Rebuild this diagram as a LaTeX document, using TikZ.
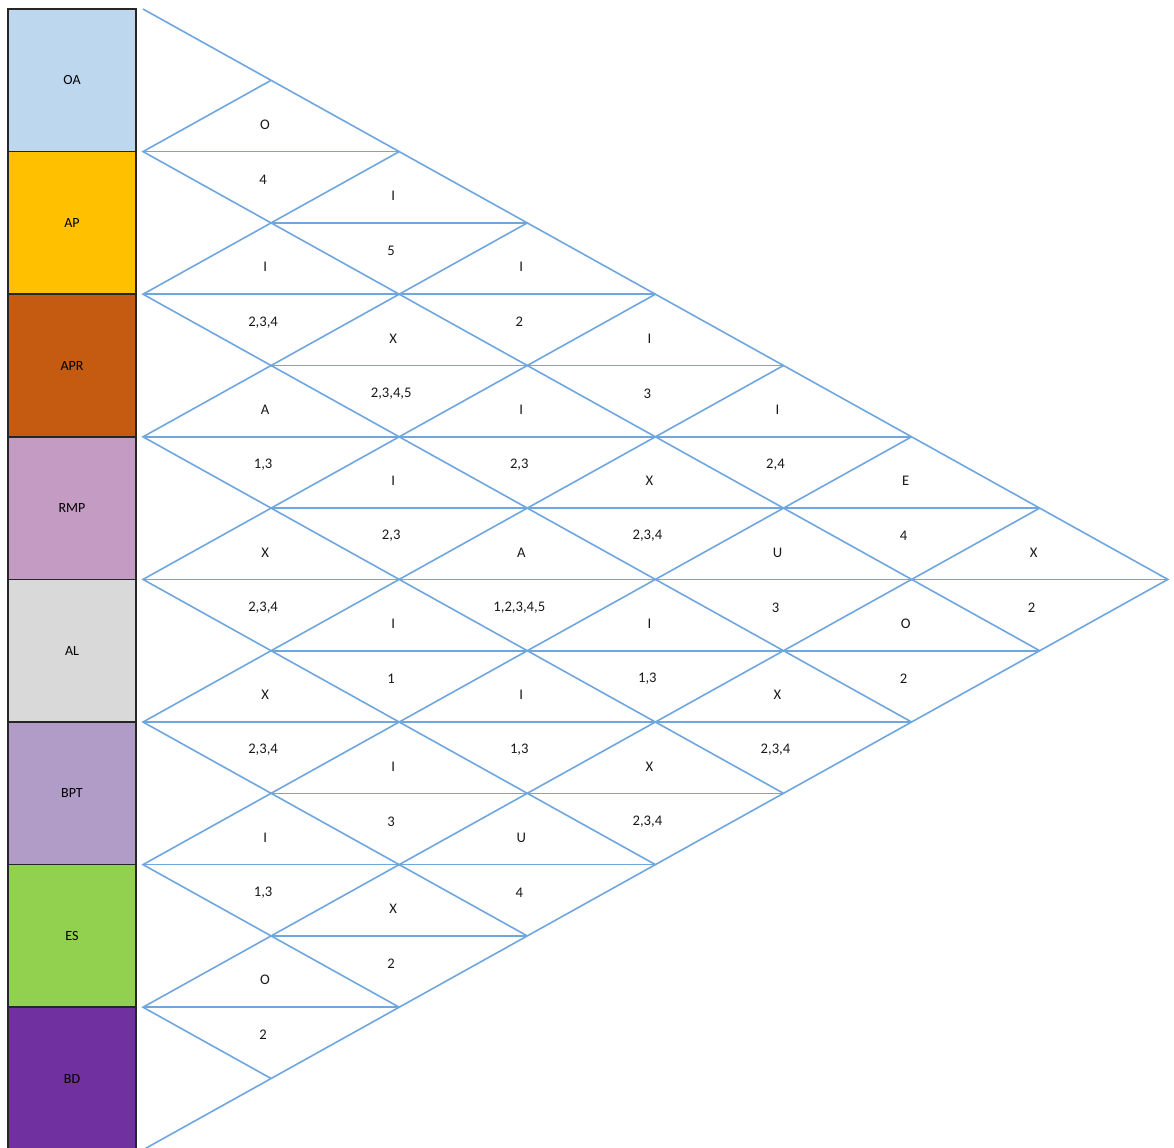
\documentclass[tikz,border=0pt]{standalone}
\usepackage{fontspec}
\setmainfont{Carlito}
\usetikzlibrary{calc}

\definecolor{relline}{RGB}{112,166,222}
\definecolor{oacol}{RGB}{189,215,238}
\definecolor{apcol}{RGB}{255,192,0}
\definecolor{aprcol}{RGB}{197,90,17}
\definecolor{rmpcol}{RGB}{195,155,195}
\definecolor{alcol}{RGB}{217,217,217}
\definecolor{bptcol}{RGB}{177,155,199}
\definecolor{escol}{RGB}{146,208,80}
\definecolor{bdcol}{RGB}{112,48,160}

\begin{document}
\begin{tikzpicture}[
    x=0.75pt, y=-0.75pt,
    dept/.style={draw=black!85, line width=1.2pt, minimum width=96pt, minimum height=106.95pt,
                 inner sep=0pt, outer sep=0pt, font=\fontsize{10.5}{12}\selectfont},
    rel/.style={draw=relline, line width=1.2pt},
    code/.style={font=\fontsize{11}{12}\selectfont, text=black!90, inner sep=1pt},
]
  \useasboundingbox (0,0) rectangle (1174,1147);

  % Lattice points of the chart
  \foreach \j in {0,...,8} {
    \foreach \i in {0,...,16} {
      \coordinate (v-\j-\i) at ({143+128.1*\j},{9+71.3*\i});
    }
  }

  % Department column
  \foreach \name/\col [count=\n from 0] in {OA/oacol, AP/apcol, APR/aprcol, RMP/rmpcol,
                                           AL/alcol, BPT/bptcol, ES/escol, BD/bdcol} {
    \pgfmathtruncatemacro\ic{2*\n+1}
    \node[dept, fill=\col] (\name) at ($(v-0-\ic)+(-71,0)$) {\name};
  }

  % Outline
  \draw[rel] (v-0-0) -- (v-8-8) -- (v-0-16);

  % Diagonals from each boundary
  \foreach \k in {1,...,7} {
    \pgfmathtruncatemacro\ib{2*\k}
    \pgfmathtruncatemacro\jd{8-\k}
    \pgfmathtruncatemacro\id{8+\k}
    \draw[rel] (v-\k-\k) -- (v-0-\ib) -- (v-\jd-\id);
  }

  % Middle lines of the diamonds
  \foreach \i in {2,...,14} {
    \pgfmathtruncatemacro\jl{mod(\i,2)}
    \pgfmathtruncatemacro\jr{min(\i,16-\i)}
    \draw[rel] (v-\jl-\i) -- (v-\jr-\i);
  }

  % Ratings (upper half) and reasons (lower half)
  \foreach \a/\b/\r/\w in {1/2/O/4, 1/3/I/5, 2/3/I/{2,3,4}, 1/4/I/2, 2/4/X/{2,3,4,5},
                          3/4/A/{1,3}, 1/5/I/3, 2/5/I/{2,3}, 3/5/I/{2,3}, 4/5/X/{2,3,4},
                          1/6/I/{2,4}, 2/6/X/{2,3,4}, 3/6/A/{1,2,3,4,5}, 4/6/I/1,
                          5/6/X/{2,3,4}, 1/7/E/4, 2/7/U/3, 3/7/I/{1,3}, 4/7/I/{1,3},
                          5/7/I/3, 6/7/I/{1,3}, 1/8/X/2, 2/8/O/2, 3/8/X/{2,3,4},
                          4/8/X/{2,3,4}, 5/8/U/4, 6/8/X/2, 7/8/O/2} {
    \pgfmathtruncatemacro\jc{\b-\a}
    \pgfmathtruncatemacro\ic{\a+\b-1}
    \node[code] (rate-\a-\b) at ($(v-\jc-\ic)+(-6,-27)$) {\r};
    \node[code] (why-\a-\b) at ($(v-\jc-\ic)+(-8,28)$) {\w};
  }
\end{tikzpicture}
\end{document}
